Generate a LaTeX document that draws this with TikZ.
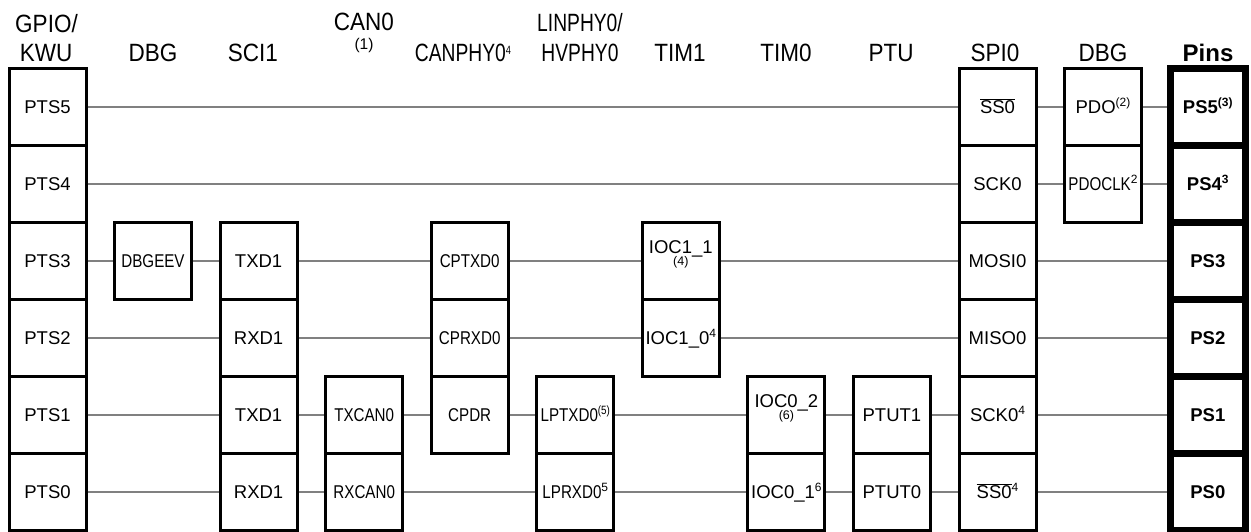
\documentclass[tikz,border=0pt]{standalone}
\usepackage{fontspec}
\setmainfont{Liberation Sans}
\newfontfamily\narrowfont[FakeStretch=0.82]{Liberation Sans}
\newfontfamily\hdrfamily[FakeStretch=0.9]{Liberation Sans}
\newfontfamily\hdrnarrowfamily[FakeStretch=0.77]{Liberation Sans}
\newcommand\lblfont{\fontsize{18.5}{20}\selectfont}
\newcommand\lblbold{\fontsize{18.5}{20}\selectfont\bfseries}
\newcommand\hdrfnt{\fontsize{25}{27}\selectfont\hdrfamily}
\newcommand\hdrnar{\fontsize{25}{27}\selectfont\hdrnarrowfamily}
\newcommand\mysup[1]{\raisebox{7pt}{\fontsize{12}{12}\selectfont #1}}
\newcommand\ssbar{$\overline{\hbox{SS0}}$}
\newcommand\twolbl[2]{\makebox[0pt]{\raisebox{14.3pt}{#1}}\makebox[0pt]{\raisebox{2pt}{\fontsize{12.5}{12.5}\selectfont #2}}}
\definecolor{wiregray}{HTML}{808080}
\begin{document}
\begin{tikzpicture}[x=1pt,y=-1pt,
  box/.style={draw=black, line width=3pt, minimum width=77pt, minimum height=77pt,
    inner sep=0pt, text height=13.3pt, text depth=0pt, font=\lblfont},
  pinbox/.style={box, line width=7pt, minimum width=75.5pt, font=\lblbold},
  wire/.style={draw=wiregray, line width=2pt},
  hdr/.style={anchor=base, inner sep=0pt, font=\hdrfnt},
  hdrn/.style={anchor=base, inner sep=0pt, font=\hdrnar},
]
\useasboundingbox (0,0) rectangle (1251,531);

% headers
\node[hdr] (h0a) at (46.5,32) {GPIO/};
\node[hdr] (h0b) at (46,61) {KWU};
\node[hdr] (h1) at (153,61) {DBG};
\node[hdr] (h2) at (253,61) {SCI1};
\node[hdr] (h3) at (364,30) {CAN0};
\node[anchor=base, inner sep=0pt, font=\fontsize{15.5}{16}\selectfont] (h3b) at (364,49) {(1)};
\node[hdrn] (h4) at (463,61) {CANPHY0\mysup{4}};
\node[hdrn] (h5a) at (580,31) {LINPHY0/};
\node[hdrn] (h5b) at (580,61) {HVPHY0};
\node[hdr] (h6) at (680,61) {TIM1};
\node[hdr] (h7) at (786,61) {TIM0};
\node[hdr] (h8) at (891,61) {PTU};
\node[hdr] (h9) at (995,61) {SPI0};
\node[hdr] (h10) at (1103,61) {DBG};
\node[anchor=base, inner sep=0pt, font=\fontsize{24}{26}\selectfont\bfseries] (h11) at (1208,61) {Pins};

% GPIO column
\node[box] (g0) at (47.5,107) {PTS5};
\node[box] (g1) at (47.5,184) {PTS4};
\node[box] (g2) at (47.5,261) {PTS3};
\node[box] (g3) at (47.5,338) {PTS2};
\node[box] (g4) at (47.5,415) {PTS1};
\node[box] (g5) at (47.5,492) {PTS0};
% DBG
\node[box] (dbgA) at (153,261) {\narrowfont DBGEEV};
% SCI1
\node[box] (s2) at (258.6,261) {TXD1};
\node[box] (s3) at (258.6,338) {RXD1};
\node[box] (s4) at (258.6,415) {TXD1};
\node[box] (s5) at (258.6,492) {RXD1};
% CAN0
\node[box] (c4) at (364.2,415) {\narrowfont TXCAN0};
\node[box] (c5) at (364.2,492) {\narrowfont RXCAN0};
% CANPHY0
\node[box] (p2) at (469.7,261) {\narrowfont CPTXD0};
\node[box] (p3) at (469.7,338) {\narrowfont CPRXD0};
\node[box] (p4) at (469.7,415) {\narrowfont CPDR};
% LINPHY0
\node[box] (l4) at (575.3,415) {{\narrowfont LPTXD0\mysup{(5)}}};
\node[box] (l5) at (575.3,492) {{\narrowfont LPRXD0}\mysup{5}};
% TIM1
\node[box] (t2) at (680.8,261) {\twolbl{IOC1\_1}{(4)}};
\node[box] (t3) at (680.8,338) {IOC1\_0\mysup{4}};
% TIM0
\node[box] (u4) at (786.4,415) {\twolbl{IOC0\_2}{(6)}};
\node[box] (u5) at (786.4,492) {IOC0\_1\mysup{6}};
% PTU
\node[box] (q4) at (891.9,415) {PTUT1};
\node[box] (q5) at (891.9,492) {PTUT0};
% SPI0
\node[box] (spi0) at (997.5,107) {\ssbar};
\node[box] (spi1) at (997.5,184) {SCK0};
\node[box] (spi2) at (997.5,261) {MOSI0};
\node[box] (spi3) at (997.5,338) {MISO0};
\node[box] (spi4) at (997.5,415) {SCK0\mysup{4}};
\node[box] (spi5) at (997.5,492) {\ssbar\mysup{4}};
% DBG (right)
\node[box] (d0) at (1103,107) {PDO\mysup{(2)}};
\node[box] (d1) at (1103,184) {{\narrowfont PDOCLK}\mysup{2}};
% Pins
\node[pinbox] (pin0) at (1207.8,107) {PS5\mysup{(3)}};
\node[pinbox] (pin1) at (1207.8,184) {PS4\mysup{3}};
\node[pinbox] (pin2) at (1207.8,261) {PS3};
\node[pinbox] (pin3) at (1207.8,338) {PS2};
\node[pinbox] (pin4) at (1207.8,415) {PS1};
\node[pinbox] (pin5) at (1207.8,492) {PS0};

% connectors
\draw[wire] (g0) -- (spi0);
\draw[wire] (spi0) -- (d0);
\draw[wire] (d0) -- (pin0);

\draw[wire] (g1) -- (spi1);
\draw[wire] (spi1) -- (d1);
\draw[wire] (d1) -- (pin1);

\draw[wire] (g2) -- (dbgA);
\draw[wire] (dbgA) -- (s2);
\draw[wire] (s2) -- (p2);
\draw[wire] (p2) -- (t2);
\draw[wire] (t2) -- (spi2);
\draw[wire] (spi2) -- (pin2);

\draw[wire] (g3) -- (s3);
\draw[wire] (s3) -- (p3);
\draw[wire] (p3) -- (t3);
\draw[wire] (t3) -- (spi3);
\draw[wire] (spi3) -- (pin3);

\draw[wire] (g4) -- (s4);
\draw[wire] (s4) -- (c4);
\draw[wire] (c4) -- (p4);
\draw[wire] (p4) -- (l4);
\draw[wire] (l4) -- (u4);
\draw[wire] (u4) -- (q4);
\draw[wire] (q4) -- (spi4);
\draw[wire] (spi4) -- (pin4);

\draw[wire] (g5) -- (s5);
\draw[wire] (s5) -- (c5);
\draw[wire] (c5) -- (l5);
\draw[wire] (l5) -- (u5);
\draw[wire] (u5) -- (q5);
\draw[wire] (q5) -- (spi5);
\draw[wire] (spi5) -- (pin5);
\end{tikzpicture}
\end{document}
